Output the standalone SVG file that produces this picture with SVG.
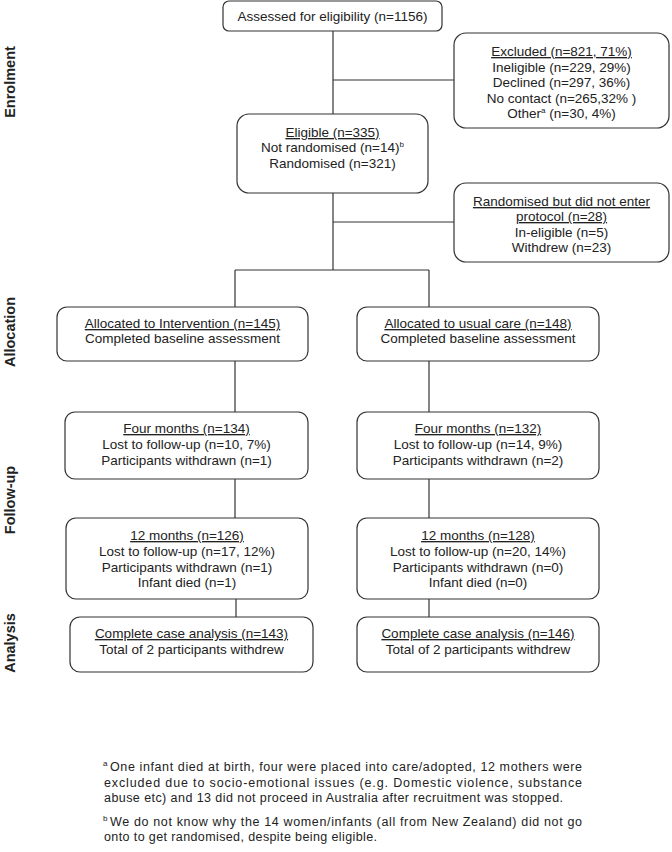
<svg xmlns="http://www.w3.org/2000/svg" width="672" height="852" viewBox="0 0 672 852">
<style>
.box{fill:#fff;stroke:#333;stroke-width:1.2}
.t{font-family:"Liberation Sans",Arial,sans-serif;font-size:13.5px;fill:#222;text-anchor:middle}
.u{text-decoration:underline}
.side{font-family:"Liberation Sans",Arial,sans-serif;font-size:14.5px;font-weight:bold;fill:#222;text-anchor:middle}
.fn{font-family:"Liberation Sans",Arial,sans-serif;font-size:12.5px;fill:#222}
.sup{font-size:8px}
.conn line{stroke:#333;stroke-width:1.2}
</style>
<rect width="672" height="852" fill="#fff"/>
<g class="conn">
<line x1="333" y1="31" x2="333" y2="114"/>
<line x1="333" y1="80" x2="454" y2="80"/>
<line x1="333" y1="193" x2="333" y2="270"/>
<line x1="333" y1="222" x2="454" y2="222"/>
<line x1="235" y1="270" x2="429" y2="270"/>
<line x1="235" y1="270" x2="235" y2="307"/>
<line x1="429" y1="270" x2="429" y2="307"/>
<line x1="235" y1="361" x2="235" y2="412"/>
<line x1="429" y1="361" x2="429" y2="412"/>
<line x1="235" y1="479" x2="235" y2="518"/>
<line x1="429" y1="479" x2="429" y2="518"/>
<line x1="236" y1="599" x2="236" y2="617"/>
<line x1="429" y1="599" x2="429" y2="617"/>
</g>
<g id="side-labels">
<text class="side" x="15" y="82" transform="rotate(-90 15 82)">Enrolment</text>
<text class="side" x="15" y="332" transform="rotate(-90 15 332)">Allocation</text>
<text class="side" x="15" y="500" transform="rotate(-90 15 500)">Follow-up</text>
<text class="side" x="15" y="643" transform="rotate(-90 15 643)">Analysis</text>
</g>
<g id="assessed">
<rect class="box" x="223" y="1" width="219" height="30" rx="6"/>
<text class="t" x="332.5" y="21">Assessed for eligibility (n=1156)</text>
</g>
<g id="excluded">
<rect class="box" x="454" y="33" width="215" height="95" rx="12"/>
<text class="t" x="561.5" y="56"><tspan class="u">Excluded (n=821, 71%)</tspan></text>
<text class="t" x="561.5" y="72">Ineligible (n=229, 29%)</text>
<text class="t" x="561.5" y="87">Declined (n=297, 36%)</text>
<text class="t" x="561.5" y="103">No contact (n=265,32% )</text>
<text class="t" x="561.5" y="118">Other<tspan class="sup" dy="-5">a</tspan><tspan dy="5"> (n=30, 4%)</tspan></text>
</g>
<g id="eligible">
<rect class="box" x="237" y="114" width="191" height="79" rx="12"/>
<text class="t" x="332.5" y="137"><tspan class="u">Eligible (n=335)</tspan></text>
<text class="t" x="332.5" y="152">Not randomised (n=14)<tspan class="sup" dy="-5">b</tspan></text>
<text class="t" x="332.5" y="168">Randomised (n=321)</text>
</g>
<g id="not-entered">
<rect class="box" x="454" y="183" width="215" height="79" rx="12"/>
<text class="t" x="561.5" y="206"><tspan class="u">Randomised but did not enter</tspan></text>
<text class="t" x="561.5" y="221"><tspan class="u">protocol (n=28)</tspan></text>
<text class="t" x="561.5" y="237">In-eligible (n=5)</text>
<text class="t" x="561.5" y="252">Withdrew (n=23)</text>
</g>
<g id="alloc-int">
<rect class="box" x="57" y="307" width="251" height="54" rx="10"/>
<text class="t" x="182.5" y="328"><tspan class="u">Allocated to Intervention (n=145)</tspan></text>
<text class="t" x="182.5" y="343">Completed baseline assessment</text>
</g>
<g id="alloc-usual">
<rect class="box" x="357" y="307" width="242" height="54" rx="10"/>
<text class="t" x="478" y="328"><tspan class="u">Allocated to usual care (n=148)</tspan></text>
<text class="t" x="478" y="343">Completed baseline assessment</text>
</g>
<g id="four-int">
<rect class="box" x="65" y="412" width="243" height="67" rx="10"/>
<text class="t" x="186.5" y="433"><tspan class="u">Four months (n=134)</tspan></text>
<text class="t" x="186.5" y="449">Lost to follow-up (n=10, 7%)</text>
<text class="t" x="186.5" y="465">Participants withdrawn (n=1)</text>
</g>
<g id="four-usual">
<rect class="box" x="357" y="412" width="242" height="67" rx="10"/>
<text class="t" x="478" y="433"><tspan class="u">Four months (n=132)</tspan></text>
<text class="t" x="478" y="449">Lost to follow-up (n=14, 9%)</text>
<text class="t" x="478" y="465">Participants withdrawn (n=2)</text>
</g>
<g id="twelve-int">
<rect class="box" x="66" y="518" width="242" height="81" rx="10"/>
<text class="t" x="187" y="540"><tspan class="u">12 months (n=126)</tspan></text>
<text class="t" x="187" y="556">Lost to follow-up (n=17, 12%)</text>
<text class="t" x="187" y="572">Participants withdrawn (n=1)</text>
<text class="t" x="187" y="587">Infant died (n=1)</text>
</g>
<g id="twelve-usual">
<rect class="box" x="357" y="518" width="242" height="81" rx="10"/>
<text class="t" x="478" y="540"><tspan class="u">12 months (n=128)</tspan></text>
<text class="t" x="478" y="556">Lost to follow-up (n=20, 14%)</text>
<text class="t" x="478" y="572">Participants withdrawn (n=0)</text>
<text class="t" x="478" y="587">Infant died (n=0)</text>
</g>
<g id="analysis-int">
<rect class="box" x="70" y="617" width="243" height="55" rx="10"/>
<text class="t" x="191.5" y="638"><tspan class="u">Complete case analysis (n=143)</tspan></text>
<text class="t" x="191.5" y="654">Total of 2 participants withdrew</text>
</g>
<g id="analysis-usual">
<rect class="box" x="357" y="617" width="242" height="55" rx="10"/>
<text class="t" x="478" y="638"><tspan class="u">Complete case analysis (n=146)</tspan></text>
<text class="t" x="478" y="654">Total of 2 participants withdrew</text>
</g>
<g id="footnotes">
<text class="fn sup" x="103" y="766">a</text>
<text class="fn" x="110" y="771" textLength="472" lengthAdjust="spacing">One infant died at birth, four were placed into care/adopted, 12 mothers were</text>
<text class="fn" x="104" y="786.5" textLength="478" lengthAdjust="spacing">excluded due to socio-emotional issues (e.g. Domestic violence, substance</text>
<text class="fn" x="104" y="802" textLength="459" lengthAdjust="spacing">abuse etc) and 13 did not proceed in Australia after recruitment was stopped.</text>
<text class="fn sup" x="103" y="821">b</text>
<text class="fn" x="110" y="826" textLength="472" lengthAdjust="spacing">We do not know why the 14 women/infants (all from New Zealand) did not go</text>
<text class="fn" x="104" y="841" textLength="273" lengthAdjust="spacing">onto to get randomised, despite being eligible.</text>
</g>
</svg>
